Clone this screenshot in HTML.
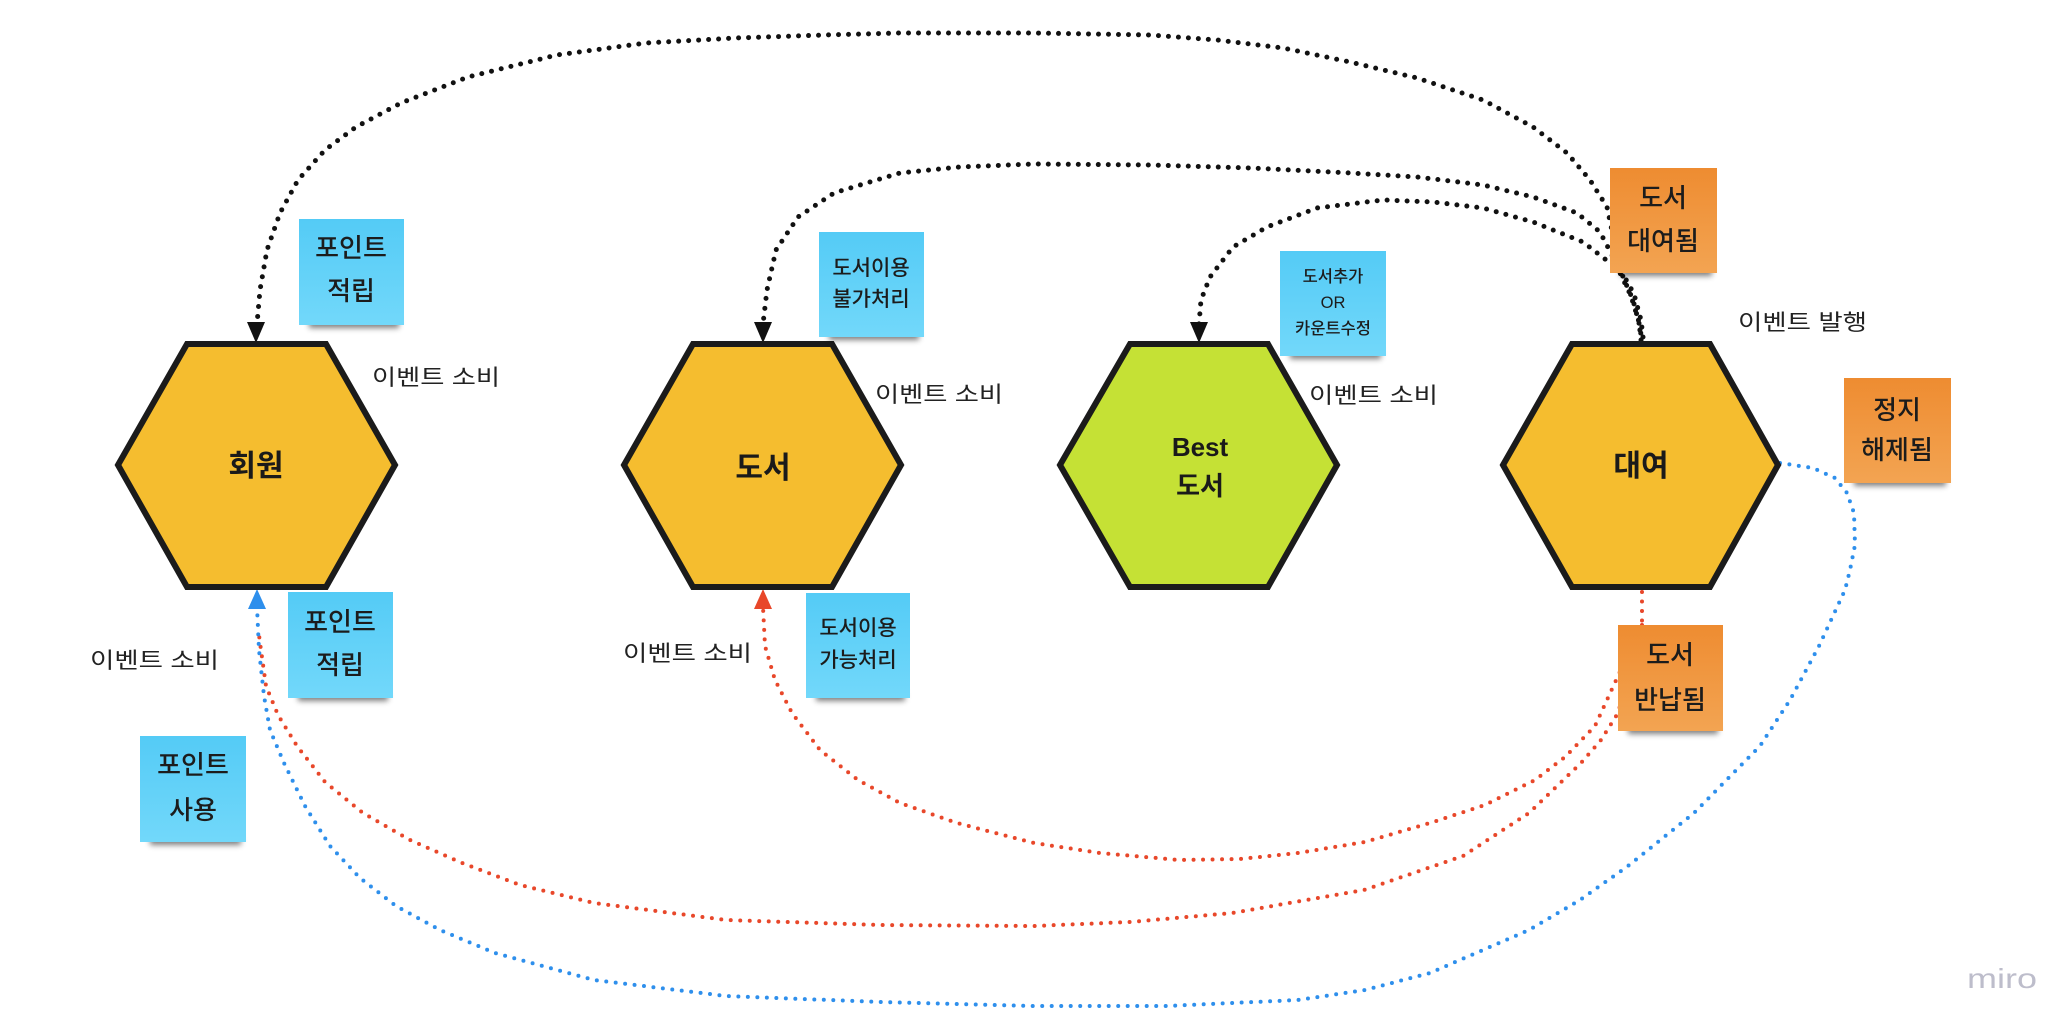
<!DOCTYPE html>
<html>
<head>
<meta charset="utf-8">
<style>
html,body{margin:0;padding:0;background:#fff;}
svg{display:block;}
text{font-family:"Liberation Sans","Noto Sans CJK KR","NanumGothic",sans-serif;}
</style>
</head>
<body>
<svg width="2068" height="1026" viewBox="0 0 2068 1026" xmlns="http://www.w3.org/2000/svg">
<defs>
  <filter id="sh" x="-20%" y="-100%" width="140%" height="300%">
    <feGaussianBlur stdDeviation="3"/>
  </filter>
  <linearGradient id="gb" x1="0" y1="0" x2="0" y2="1">
    <stop offset="0" stop-color="#54CBF6"/>
    <stop offset="1" stop-color="#72D8FA"/>
  </linearGradient>
  <linearGradient id="go" x1="0" y1="0" x2="0" y2="1">
    <stop offset="0" stop-color="#EE8C31"/>
    <stop offset="1" stop-color="#F3A452"/>
  </linearGradient>
</defs>
<rect width="2068" height="1026" fill="#fff"/>

<!-- connectors -->
<g fill="none" stroke-linecap="round" stroke-linejoin="round">
  <path stroke="#111" stroke-width="5" stroke-dasharray="0 10"
    d="M1642,343 L1640,327 L1633,300 L1623,277 L1615,245 L1607,207 L1590,180 L1567,153 L1533,127 L1483,100 L1417,78 L1350,62 L1283,48 L1217,40 L1150,35 L1034,33 L900,33 L825,35 L736,38 L646,43 L557,55 L468,77 L401,103 L356,127 L325,150 L298,180 L280,213 L267,250 L260,290 L257,324"/>
  <path stroke="#111" stroke-width="5" stroke-dasharray="0 10"
    d="M1641,340 L1639,322 L1631,296 L1621,275 L1612,255 L1600,232 L1577,213 L1533,197 L1483,185 L1417,177 L1350,173 L1250,168 L1150,165 L1034,164 L960,167 L900,173 L870,182 L834,193 L798,217 L776,250 L767,290 L763,324"/>
  <path stroke="#111" stroke-width="5" stroke-dasharray="0 10"
    d="M1643,337 L1641,320 L1634,294 L1624,276 L1610,263 L1583,242 L1533,222 L1483,208 L1433,202 L1383,200 L1317,208 L1267,227 L1233,247 L1210,277 L1201,300 L1199,324"/>

  <path stroke="#E8472A" stroke-width="4" stroke-dasharray="0 9.5"
    d="M1642,592 L1642,625 L1630,650 L1618,676 L1595,726 L1565,757 L1535,780 L1485,805 L1430,823 L1365,842 L1298,853 L1240,859 L1179,860 L1100,853 L1034,843 L957,823 L900,803 L858,780 L820,750 L792,713 L775,680 L765,646 L763,607"/>
  <path stroke="#E8472A" stroke-width="4" stroke-dasharray="0 9.5"
    d="M1642,625 L1630,670 L1618,713 L1601,740 L1581,763 L1529,813 L1463,856 L1364,890 L1232,913 L1130,922 L1034,926 L880,925 L726,920 L594,903 L520,885 L462,863 L410,840 L363,813 L325,782 L297,746 L278,715 L266,686 L261,650 L259,635"/>

  <path stroke="#2E8FEC" stroke-width="4" stroke-dasharray="0 9.5"
    d="M1780,463 L1813,468 L1835,478 L1847,493 L1854,513 L1855,545 L1850,570 L1845,590 L1819,646 L1790,700 L1760,746 L1694,813 L1628,866 L1580,900 L1529,930 L1430,973 L1365,990 L1298,1000 L1166,1006 L1034,1006 L880,1002 L726,996 L594,980 L495,953 L440,930 L396,906 L360,878 L330,846 L305,806 L284,763 L270,730 L264,696 L259,650 L257,607"/>
</g>

<!-- arrowheads -->
<polygon points="256,343 247,322 265,322" fill="#111"/>
<polygon points="763,343 754,322 772,322" fill="#111"/>
<polygon points="1199,343 1190,322 1208,322" fill="#111"/>
<polygon points="763,589 754,609 772,609" fill="#E8472A"/>
<polygon points="257,589 248,609 266,609" fill="#2E8FEC"/>

<!-- hexagons -->
<g stroke="#1b1b1b" stroke-width="6" stroke-linejoin="miter">
  <polygon points="118,465 187,344 326,344 395,465 326,587 187,587" fill="#F5BD2F"/>
  <polygon points="624,465 693,344 832,344 901,465 832,587 693,587" fill="#F5BD2F"/>
  <polygon points="1060,465 1130,344 1268,344 1337,465 1268,587 1130,587" fill="#C5E135"/>
  <polygon points="1503,465 1572,344 1710,344 1778,465 1710,587 1572,587" fill="#F5BD2F"/>
</g>
<g font-weight="bold" fill="#1a1a1a" text-anchor="middle">
  <text x="256" y="476" font-size="30">회원</text>
  <text x="763" y="478" font-size="30">도서</text>
  <text x="1641" y="476" font-size="30">대여</text>
  <text x="1200" y="456" font-size="26">Best</text>
  <text x="1200" y="495" font-size="26">도서</text>
</g>

<!-- labels -->
<g fill="#222" font-size="22">
  <text x="372" y="385" textLength="128" lengthAdjust="spacingAndGlyphs">이벤트 소비</text>
  <text x="875" y="402" textLength="128" lengthAdjust="spacingAndGlyphs">이벤트 소비</text>
  <text x="1309" y="403" textLength="129" lengthAdjust="spacingAndGlyphs">이벤트 소비</text>
  <text x="90" y="668" textLength="129" lengthAdjust="spacingAndGlyphs">이벤트 소비</text>
  <text x="623" y="661" textLength="129" lengthAdjust="spacingAndGlyphs">이벤트 소비</text>
  <text x="1738" y="330" textLength="129" lengthAdjust="spacingAndGlyphs">이벤트 발행</text>
</g>

<!-- sticky notes: shadows -->
<g fill="#000" opacity="0.5" filter="url(#sh)">
  <rect x="309" y="318" width="90" height="10"/>
  <rect x="829" y="330" width="90" height="10"/>
  <rect x="1290" y="349" width="91" height="10"/>
  <rect x="1620" y="266" width="92" height="10"/>
  <rect x="1854" y="476" width="92" height="10"/>
  <rect x="298" y="691" width="90" height="10"/>
  <rect x="816" y="691" width="89" height="10"/>
  <rect x="150" y="835" width="91" height="10"/>
  <rect x="1628" y="724" width="90" height="10"/>
</g>
<!-- sticky notes -->
<rect x="299" y="219" width="105" height="106" fill="url(#gb)"/>
<rect x="819" y="232" width="105" height="105" fill="url(#gb)"/>
<rect x="1280" y="251" width="106" height="105" fill="url(#gb)"/>
<rect x="1610" y="168" width="107" height="105" fill="url(#go)"/>
<rect x="1844" y="378" width="107" height="105" fill="url(#go)"/>
<rect x="288" y="592" width="105" height="106" fill="url(#gb)"/>
<rect x="806" y="593" width="104" height="105" fill="url(#gb)"/>
<rect x="140" y="736" width="106" height="106" fill="url(#gb)"/>
<rect x="1618" y="625" width="105" height="106" fill="url(#go)"/>

<g fill="#1c1c1c" text-anchor="middle" font-weight="500">
  <g font-size="26">
    <text x="351" y="257">포인트</text>
    <text x="351" y="300">적립</text>
    <text x="1663" y="207">도서</text>
    <text x="1663" y="250">대여됨</text>
    <text x="1897" y="419">정지</text>
    <text x="1897" y="459">해제됨</text>
    <text x="340" y="631">포인트</text>
    <text x="340" y="674">적립</text>
    <text x="193" y="774">포인트</text>
    <text x="193" y="819">사용</text>
    <text x="1670" y="664">도서</text>
    <text x="1670" y="709">반납됨</text>
  </g>
  <g font-size="21">
    <text x="871" y="275">도서이용</text>
    <text x="871" y="306">불가처리</text>
    <text x="858" y="635">도서이용</text>
    <text x="858" y="667">가능처리</text>
  </g>
  <g font-size="16.5">
    <text x="1333" y="282">도서추가</text>
    <text x="1333" y="308">OR</text>
    <text x="1333" y="334">카운트수정</text>
  </g>
</g>

<text x="1967" y="988" font-size="28" fill="#BDBDCB" textLength="70" lengthAdjust="spacingAndGlyphs">miro</text>
</svg>
</body>
</html>
